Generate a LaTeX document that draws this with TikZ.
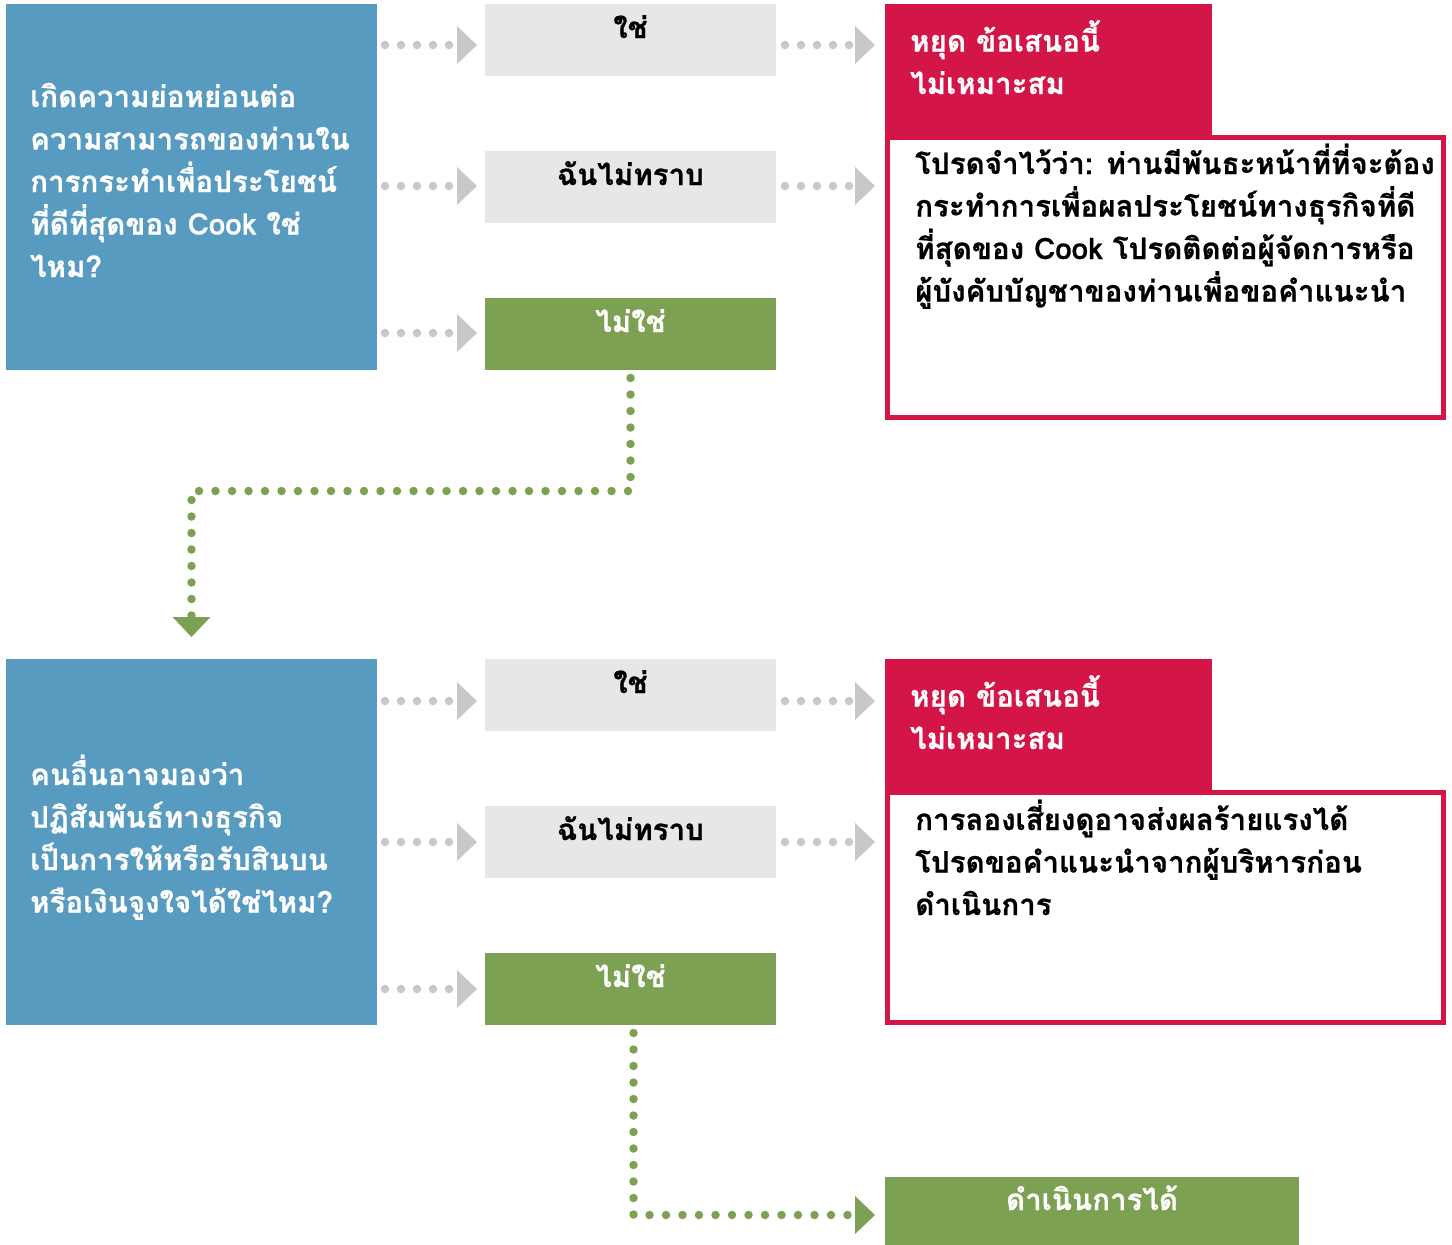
\documentclass[tikz,border=0pt]{standalone}
\usepackage{fontspec}
\setmainfont{Loma}[Script=Thai, BoldFont={Loma Bold}, BoldFeatures={FakeBold=0.6}]
\usetikzlibrary{arrows.meta}
\definecolor{qblue}{RGB}{88,155,192}
\definecolor{lgray}{RGB}{230,231,232}
\definecolor{cred}{RGB}{212,21,72}
\definecolor{cgreen}{RGB}{125,161,82}
\definecolor{dgray}{RGB}{200,200,202}
\begin{document}
\begin{tikzpicture}[x=1pt,y=-1pt,
  font=\bfseries\fontsize{29.5}{42.5}\selectfont,
  box/.style={anchor=north west, inner sep=0pt, outer sep=0pt},
  qbox/.style={box, fill=qblue, minimum width=371pt, minimum height=366pt},
  abox/.style={box, fill=lgray, minimum width=291pt, minimum height=72pt},
  gbox/.style={box, fill=cgreen, minimum width=291pt, minimum height=72pt},
  hdr/.style={box, fill=cred, minimum width=327pt, minimum height=133pt},
  msg/.style={box, draw=cred, line width=5pt, minimum width=556pt},
  fbox/.style={box, fill=cgreen, minimum width=414pt, minimum height=68pt},
  wtext/.style={anchor=base west, align=left, inner sep=0pt, text=white},
  btext/.style={anchor=base west, align=left, inner sep=0pt, text=black},
  ctext/.style={anchor=base, inner sep=0pt},
  gdots/.style={draw=dgray, line width=8.5pt, line cap=round, dash pattern=on 0pt off 16pt,
    -{Triangle[length=20pt, width=38pt, line width=0pt]}},
  vdots/.style={draw=cgreen, line width=8.5pt, line cap=round, dash pattern=on 0pt off 16.5pt,
    -{Triangle[length=20pt, width=38pt, line width=0pt]}}
]
\useasboundingbox (0,0) rectangle (1452,1245);

% ---------- section 1 ----------
\node[qbox] (q1) at (6,4) {};
\node[abox] (a1) at (485,4) {};
\node[abox] (a2) at (485,151) {};
\node[gbox] (a3) at (485,298) {};
\node[msg, minimum height=280pt] (m1) at (887.5,137.5) {};
\node[hdr] (h1) at (885,4) {};

% multi-line nodes: base = baseline of last line
\node[wtext] (q1t) at (30,277) {เกิดความย่อหย่อนต่อ\\ความสามารถของท่านใน\\การกระทำเพื่อประโยชน์\\ที่ดีที่สุดของ Cook ใช่\\ไหม?};
\node[ctext] (a1t) at ([yshift=-34pt]a1.north) {ใช่};
\node[ctext] (a2t) at ([yshift=-34pt]a2.north) {ฉันไม่ทราบ};
\node[ctext, text=white] (a3t) at ([yshift=-34pt]a3.north) {ไม่ใช่};
\node[wtext] (h1t) at (910,94) {หยุด ข้อเสนอนี้\\ไม่เหมาะสม};
\node[btext] (m1t) at (915,301.5) {โปรดจำไว้ว่า: ท่านมีพันธะหน้าที่ที่จะต้อง\\กระทำการเพื่อผลประโยชน์ทางธุรกิจที่ดี\\ที่สุดของ Cook โปรดติดต่อผู้จัดการหรือ\\ผู้บังคับบัญชาของท่านเพื่อขอคำแนะนำ};

% ---------- section 2 ----------
\node[qbox] (q2) at (6,659) {};
\node[abox] (b1) at (485,659) {};
\node[abox] (b2) at (485,806) {};
\node[gbox] (b3) at (485,953) {};
\node[msg, minimum height=230pt] (m2) at (887.5,792.5) {};
\node[hdr, minimum height=131pt] (h2) at (885,659) {};
\node[fbox] (f) at (885,1177) {};

\node[wtext] (q2t) at (30,912.5) {คนอื่นอาจมองว่า\\ปฏิสัมพันธ์ทางธุรกิจ\\เป็นการให้หรือรับสินบน\\หรือเงินจูงใจได้ใช่ไหม?};
\node[ctext] (b1t) at ([yshift=-34pt]b1.north) {ใช่};
\node[ctext] (b2t) at ([yshift=-34pt]b2.north) {ฉันไม่ทราบ};
\node[ctext, text=white] (b3t) at ([yshift=-34pt]b3.north) {ไม่ใช่};
\node[wtext] (h2t) at (910,749) {หยุด ข้อเสนอนี้\\ไม่เหมาะสม};
\node[btext] (m2t) at (915,915) {การลองเสี่ยงดูอาจส่งผลร้ายแรงได้\\โปรดขอคำแนะนำจากผู้บริหารก่อน\\ดำเนินการ};
\node[ctext, text=white] (ft) at ([yshift=-33pt]f.north) {ดำเนินการได้};

% ---------- connectors ----------
\foreach \t/\dy in {a1/-5,a2/1,a3/1,b1/-6,b2/0,b3/0}{
  \draw[gdots] ([xshift=-100pt,yshift=\dy pt]\t.west) -- ([xshift=-8pt,yshift=\dy pt]\t.west);
}
\draw[gdots] ([xshift=9pt,yshift=-5pt]a1.east) -- ([xshift=-10pt,yshift=-5pt]a1.east -| h1.west);
\draw[gdots] ([xshift=9pt,yshift=1pt]a2.east) -- ([xshift=-12.5pt,yshift=1pt]a2.east -| m1.west);
\draw[gdots] ([xshift=9pt,yshift=-6pt]b1.east) -- ([xshift=-10pt,yshift=-6pt]b1.east -| h2.west);
\draw[gdots] ([xshift=9pt]b2.east) -- ([xshift=-12.5pt]b2.east -| m2.west);

\draw[vdots] ([yshift=-8pt]a3.south) -- ++(0,113) -| ([yshift=22pt]q2.north);
\draw[vdots] ([xshift=3pt,yshift=-8pt]b3.south) |- ([xshift=-10pt,yshift=-4pt]f.west);
\end{tikzpicture}
\end{document}
